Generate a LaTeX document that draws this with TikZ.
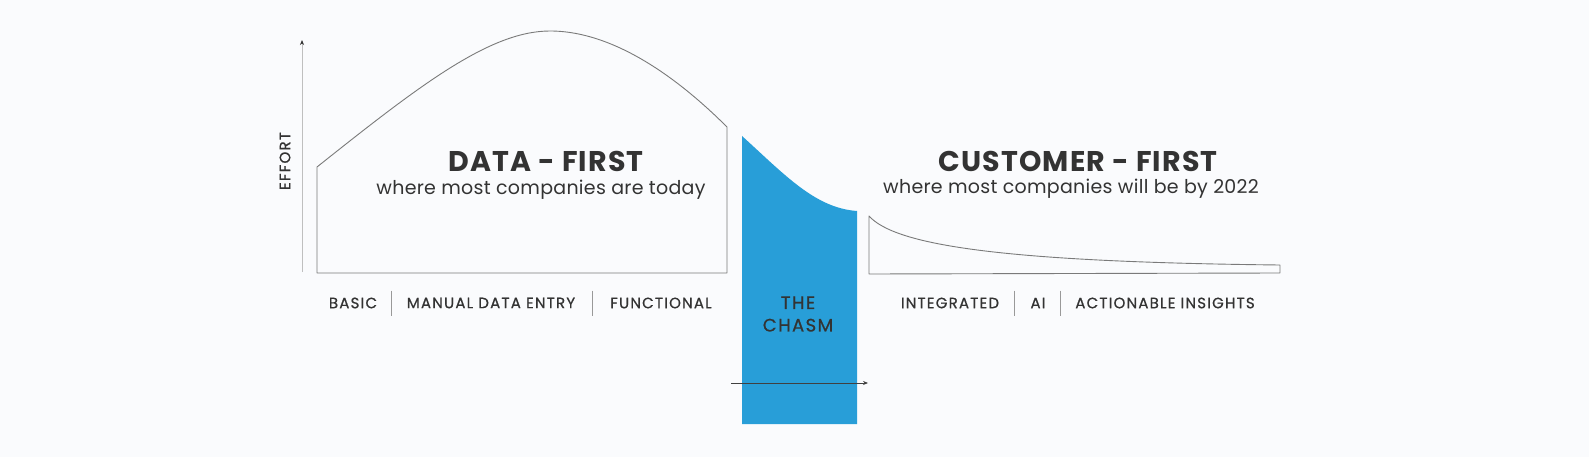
\documentclass[tikz,border=0pt]{standalone}
\usepackage{fontspec}
\setmainfont{Poppins}
\usepackage{tikz}
\usetikzlibrary{arrows.meta,positioning,calc}
\definecolor{bgpaper}{HTML}{FAFBFD}
\definecolor{chasmblue}{HTML}{289ED8}
\definecolor{inktext}{HTML}{333333}
\definecolor{outline}{HTML}{7A7A7A}
\newfontfamily\stagefont[LetterSpace=8, FakeBold=0.7]{Poppins}
\tikzset{
  >=Stealth,
  every node/.append style={text=inktext, inner sep=0pt},
}
\tikzset{
  curvebox/.style={draw=outline, line width=0.9pt, line join=round},
  stage/.style={font=\stagefont\fontsize{15}{17}\selectfont},
  sep/.style={draw=black!40, line width=1pt}
}
\begin{document}
\begin{tikzpicture}[x=1pt, y=-1pt,
  title/.style={font=\fontsize{28.5}{32}\selectfont\bfseries\addfontfeatures{LetterSpace=4}},
  subtitle/.style={font=\fontsize{19}{22}\selectfont\addfontfeatures{LetterSpace=1.5}},
  axis/.style={draw=black!25, line width=0.8pt, -{Stealth[length=5pt,width=4pt,black!80]}},
  flow/.style={draw=black!75, line width=0.8pt, -{Stealth[length=5pt,width=4pt]}}
]
% background and page size
\fill[bgpaper] (0,0) rectangle (1589,457);
\useasboundingbox (0,0) rectangle (1589,457);

% effort axis
\coordinate (axbot) at (302,272);
\coordinate (axtop) at (302,40);
\draw[axis] (axbot) -- (axtop);
\node[stage, rotate=90] (effort) at (285,161) {EFFORT};

% data-first hill
\draw[curvebox] (317,273) -- (317,167)
  .. controls (420,85) and (490,31) .. (550,31)
  .. controls (615,31) and (680,80) .. (727,127)
  -- (727,273) -- cycle;

% the chasm
\fill[chasmblue] (742,136) .. controls (785,175) and (815,208) .. (857,211)
  -- (857,424) -- (742,424) -- cycle;

% customer-first tail
\draw[curvebox] (869,274) -- (869,216)
  .. controls (895,245) and (1000,262) .. (1280,265)
  -- (1280,273) -- cycle;

% headings
\node[title] (datafirst) at (546,161) {DATA - FIRST};
\node[subtitle] (datasub) at (541,190) {where most companies are today};
\node[title] (custfirst) at (1078,161) {CUSTOMER - FIRST};
\node[subtitle] (custsub) at (1071,189) {where most companies will be by 2022};

% stage labels
\node[stage] (basic) at (353,303) {BASIC};
\node[stage] (manual) at (491,303) {MANUAL DATA ENTRY};
\node[stage] (functional) at (661,303) {FUNCTIONAL};
\node[stage] (integrated) at (950,303) {INTEGRATED};
\node[stage] (ai) at (1038,303) {AI};
\node[stage] (insights) at (1165,303) {ACTIONABLE INSIGHTS};
\node[stage, align=center, font=\stagefont\fontsize{18}{22.5}\selectfont] (chasm) at (798,314) {THE\\CHASM};

% separators
\foreach \a/\b in {basic/manual, manual/functional, integrated/ai, ai/insights}
  \draw[sep] ($(\a.east)!0.5!(\b.west)+(0,-12.5)$) -- ($(\a.east)!0.5!(\b.west)+(0,12.5)$);

% time arrow across the chasm
\coordinate (flowin) at (731,383);
\coordinate (flowout) at (868,383);
\draw[flow] (flowin) -- (flowout);

\end{tikzpicture}
\end{document}
